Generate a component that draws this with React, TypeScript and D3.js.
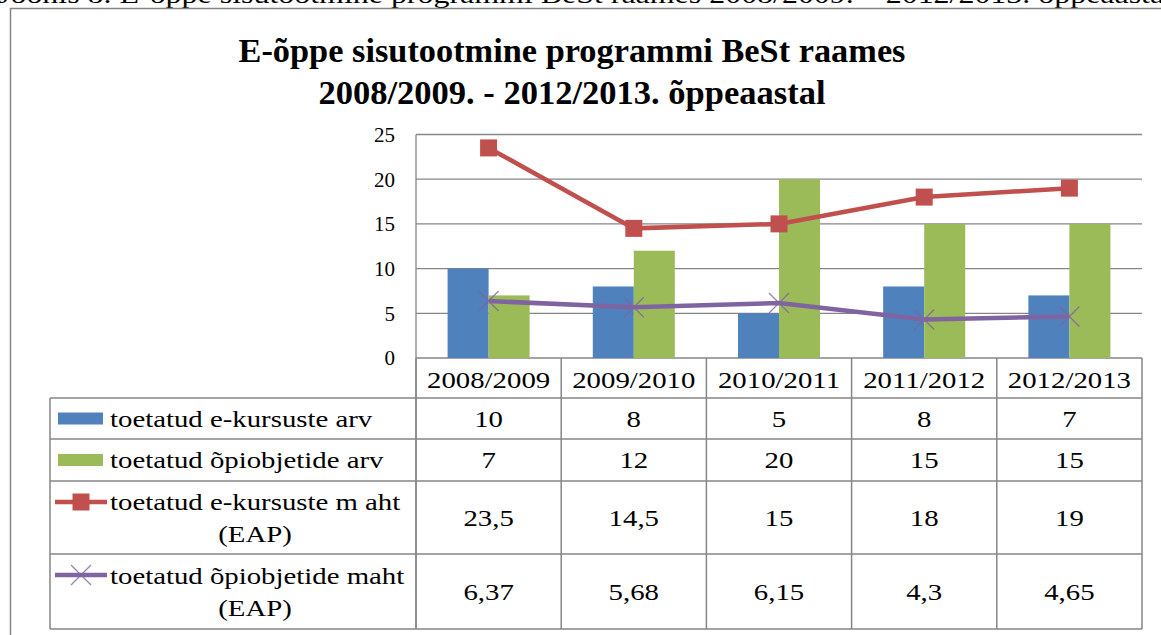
import React from "react";
import * as d3 from "d3";

// andmed
const categories = ["2008/2009", "2009/2010", "2010/2011", "2011/2012", "2012/2013"];
const kursusteArv = [10, 8, 5, 8, 7];
const opiobjektideArv = [7, 12, 20, 15, 15];
const kursusteMaht = [23.5, 14.5, 15, 18, 19];
const opiobjektideMaht = [6.37, 5.68, 6.15, 4.3, 4.65];
const yTicks = [0, 5, 10, 15, 20, 25];
const seriesLabels = [
  ["toetatud e-kursuste arv"],
  ["toetatud õpiobjetide arv"],
  ["toetatud e-kursuste m aht", "(EAP)"],
  ["toetatud õpiobjetide maht", "(EAP)"],
];

const W = 1161;
const H = 635;
const BLUE = "#4f81bd";
const GREEN = "#9bbb59";
const RED = "#c0504d";
const PURPLE = "#8064a2";
const GRID = "#868686";
const FONT = "Liberation Serif";
const SX = 1.2; // tabeli tekst on laiem

const fmt = (v: number) => String(v).replace(".", ",");

const SText = ({ x, y, anchor = "middle", size = 24, children }: any) => (
  <text
    transform={`translate(${x},${y}) scale(${SX},1)`}
    textAnchor={anchor}
    style={{ fontFamily: FONT, fontSize: size }}
    fill="#000"
  >
    {children}
  </text>
);

export default function App() {
  const plotLeft = 416;
  const plotRight = 1142;
  const x = d3.scaleBand<string>().domain(categories).range([plotLeft, plotRight]);
  const xs = d3
    .scaleBand<string>()
    .domain(["arv1", "arv2"])
    .range([0, x.bandwidth()])
    .paddingOuter(0.77);
  const y = d3.scaleLinear().domain([0, 25]).range([358, 134.5]);
  const cx = (c: string) => (x(c) as number) + x.bandwidth() / 2;

  const line = d3
    .line<number>()
    .x((_, i) => cx(categories[i]))
    .y((d) => y(d));

  // tabeli read
  const headTop = y(0);
  const rows = [398, 439, 481, 554, 629];
  const tableLeft = 50;
  const rowValues = [kursusteArv, opiobjektideArv, kursusteMaht, opiobjektideMaht];

  const xMark = (px: number, py: number, r: number) =>
    `M${px - r},${py - r}L${px + r},${py + r}M${px - r},${py + r}L${px + r},${py - r}`;

  return (
    <svg
      width={W}
      height={H}
      style={{ position: "absolute", left: 0, top: 0, background: "#fff" }}
    >
      {/* ülemine äralõigatud pealkiri */}
      <text
        x={-2}
        y={3}
        style={{ fontFamily: FONT, fontSize: 26 }}
        textLength={1175}
        lengthAdjust="spacingAndGlyphs"
      >
        Joonis 8. E-õppe sisutootmine programmi BeSt raames 2008/2009. – 2012/2013. õppeaastal
      </text>

      <rect x={10.5} y={8.5} width={1200} height={700} fill="#fff" stroke={GRID} strokeWidth={1.5} />

      {/* pealkiri */}
      <text
        x={572}
        y={62}
        textAnchor="middle"
        style={{ fontFamily: FONT, fontSize: 33, fontWeight: "bold" }}
        textLength={667}
        lengthAdjust="spacingAndGlyphs"
      >
        E-õppe sisutootmine programmi BeSt raames
      </text>
      <text
        x={572}
        y={104}
        textAnchor="middle"
        style={{ fontFamily: FONT, fontSize: 33, fontWeight: "bold" }}
        textLength={507}
        lengthAdjust="spacingAndGlyphs"
      >
        2008/2009. - 2012/2013. õppeaastal
      </text>

      {/* ruudustik */}
      {yTicks.map((t) => (
        <g key={t}>
          <line x1={plotLeft} x2={plotRight} y1={y(t)} y2={y(t)} stroke={GRID} strokeWidth={1.3} />
          <text
            x={395}
            y={y(t)}
            dy="0.35em"
            textAnchor="end"
            style={{ fontFamily: FONT, fontSize: 21 }}
          >
            {t}
          </text>
        </g>
      ))}
      <line x1={plotLeft} x2={plotLeft} y1={y(25)} y2={rows[4]} stroke={GRID} strokeWidth={1.3} />

      {/* tulbad */}
      {categories.map((c, i) => (
        <g key={c} transform={`translate(${x(c)},0)`}>
          <rect
            x={xs("arv1")}
            y={y(kursusteArv[i])}
            width={xs.bandwidth()}
            height={y(0) - y(kursusteArv[i])}
            fill={BLUE}
          />
          <rect
            x={xs("arv2")}
            y={y(opiobjektideArv[i])}
            width={xs.bandwidth()}
            height={y(0) - y(opiobjektideArv[i])}
            fill={GREEN}
          />
        </g>
      ))}

      {/* jooned */}
      <path d={line(kursusteMaht) || ""} fill="none" stroke={RED} strokeWidth={4.5} />
      {kursusteMaht.map((v, i) => (
        <rect key={i} x={cx(categories[i]) - 8.5} y={y(v) - 8.5} width={17} height={17} fill={RED} />
      ))}
      <path d={line(opiobjektideMaht) || ""} fill="none" stroke={PURPLE} strokeWidth={4.5} />
      {opiobjektideMaht.map((v, i) => (
        <path key={i} d={xMark(cx(categories[i]), y(v), 10)} stroke={PURPLE} strokeWidth={1.3} opacity={0.8} />
      ))}

      {/* andmetabel */}
      <g stroke={GRID} strokeWidth={1.5}>
        {categories.map((c) => (
          <line key={c} x1={x(c)} x2={x(c)} y1={headTop} y2={rows[4]} />
        ))}
        <line x1={plotRight} x2={plotRight} y1={headTop} y2={rows[4]} />
        {rows.map((r) => (
          <line key={r} x1={tableLeft} x2={plotRight} y1={r} y2={r} />
        ))}
        <line x1={tableLeft} x2={tableLeft} y1={rows[0]} y2={rows[4]} />
      </g>

      {categories.map((c) => (
        <SText key={c} x={cx(c)} y={388}>
          {c}
        </SText>
      ))}

      {rowValues.map((vals, r) => {
        const mid = (rows[r] + rows[r + 1]) / 2;
        return vals.map((v, i) => (
          <SText key={`${r}-${i}`} x={cx(categories[i])} y={mid + 8}>
            {fmt(v)}
          </SText>
        ));
      })}

      {/* legendi võtmed */}
      {[BLUE, GREEN].map((col, r) => {
        const mid = (rows[r] + rows[r + 1]) / 2;
        return <rect key={col} x={58} y={mid - 6} width={45} height={12} fill={col} />;
      })}
      <line x1={55} x2={107} y1={502} y2={502} stroke={RED} strokeWidth={4.5} />
      <rect x={72.5} y={493.5} width={17} height={17} fill={RED} />
      <line x1={55} x2={107} y1={575} y2={575} stroke={PURPLE} strokeWidth={4.5} />
      <path d={xMark(81, 575, 10)} stroke={PURPLE} strokeWidth={1.3} opacity={0.8} />

      {seriesLabels.map((lines, r) => {
        const mid = (rows[r] + rows[r + 1]) / 2;
        if (lines.length === 1) {
          return (
            <SText key={r} x={110} y={mid + 8} anchor="start">
              {lines[0]}
            </SText>
          );
        }
        return (
          <g key={r}>
            <SText x={110} y={mid - 8} anchor="start">
              {lines[0]}
            </SText>
            <SText x={255} y={mid + 24} anchor="middle">
              {lines[1]}
            </SText>
          </g>
        );
      })}
    </svg>
  );
}
